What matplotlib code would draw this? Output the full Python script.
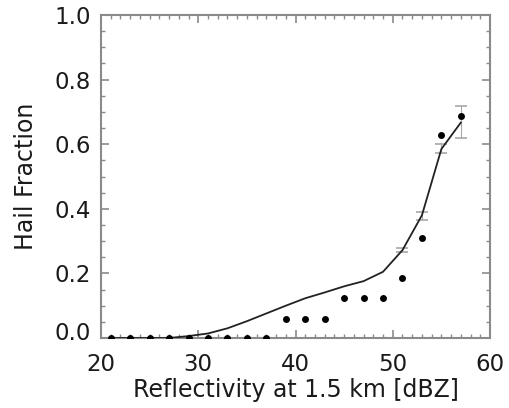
import matplotlib
matplotlib.use("Agg")
import matplotlib.pyplot as plt
import matplotlib.transforms as mtransforms
import numpy as np

# Data
refl = [21, 23, 25, 27, 29, 31, 33, 35, 37, 39, 41, 43, 45, 47, 49, 51, 53, 55, 57]
obs_frac = [0, 0, 0, 0, 0, 0, 0, 0, 0, 0.06, 0.06, 0.06, 0.123, 0.123, 0.123,
            0.185, 0.31, 0.627, 0.688]
model_frac = [0, 0, 0, 0, 0.006, 0.014, 0.03, 0.052, 0.076, 0.10, 0.123, 0.141,
              0.16, 0.176, 0.205, 0.272, 0.38, 0.585, 0.667]
err_low = [0, 0, 0, 0, 0.006, 0.014, 0.03, 0.052, 0.076, 0.10, 0.123, 0.141,
           0.16, 0.176, 0.205, 0.265, 0.365, 0.573, 0.62]
err_high = [0, 0, 0, 0, 0.006, 0.014, 0.03, 0.052, 0.076, 0.10, 0.123, 0.141,
            0.16, 0.176, 0.205, 0.28, 0.391, 0.60, 0.719]
yticks = [0.0, 0.2, 0.4, 0.6, 0.8, 1.0]
ytick_labels = ["0.0", "0.2", "0.4", "0.6", "0.8", "1.0"]
xticks = [20, 30, 40, 50, 60]

plt.rcParams['font.family'] = ['DejaVu Sans']

fig = plt.figure(figsize=(5.09, 4.08), dpi=100)
ax = fig.add_axes([101/509, 1-338/408, (490-101)/509, (338-15)/408])

frame = '#8a8a8a'
txt = '#1a1a1a'

# error bars (gray), only where they have visible extent
r = np.array(refl)
m = np.array(model_frac)
el = np.array(err_low)
eh = np.array(err_high)
sel = (eh - el) > 0
ax.errorbar(r[sel], m[sel], yerr=[m[sel] - el[sel], eh[sel] - m[sel]], fmt='none',
            ecolor='#a8a8a8', elinewidth=0.8, capsize=4, capthick=1.2, zorder=2)
ax.plot(refl, model_frac, color='#222222', lw=1.3, zorder=3)
ax.plot(refl, obs_frac, 'o', color='black', ms=5, mec='none', zorder=4)

ax.set_xlim(20, 60)
ax.set_ylim(0, 1.0)
ax.set_xticks(xticks)
ax.set_xticks(np.arange(20, 61, 1), minor=True)
ax.set_yticks(yticks)
ax.set_yticklabels(ytick_labels)
ax.set_yticks(np.arange(0, 1.001, 0.05), minor=True)

for s in ax.spines.values():
    s.set_color(frame)
    s.set_linewidth(1.5)

ax.tick_params(which='both', direction='in', top=True, right=True, colors=frame,
               labelcolor=txt, labelsize=16.5)
ax.tick_params(which='major', length=6, width=1.2)
ax.tick_params(which='minor', length=3, width=1.0)
ax.tick_params(axis='x', which='major', pad=11)
ax.tick_params(axis='y', which='major', pad=7)

# shift the 0.0 label up a bit
lab0 = ax.get_yticklabels()[0]
lab0.set_transform(lab0.get_transform() + mtransforms.ScaledTranslation(0, 7/100, fig.dpi_scale_trans))

ax.set_xlabel('Reflectivity at 1.5 km [dBZ]', fontsize=17, color=txt, labelpad=1)
ax.set_ylabel('Hail Fraction', fontsize=17, color=txt, labelpad=12)

fig.savefig('out.png', dpi=100)
